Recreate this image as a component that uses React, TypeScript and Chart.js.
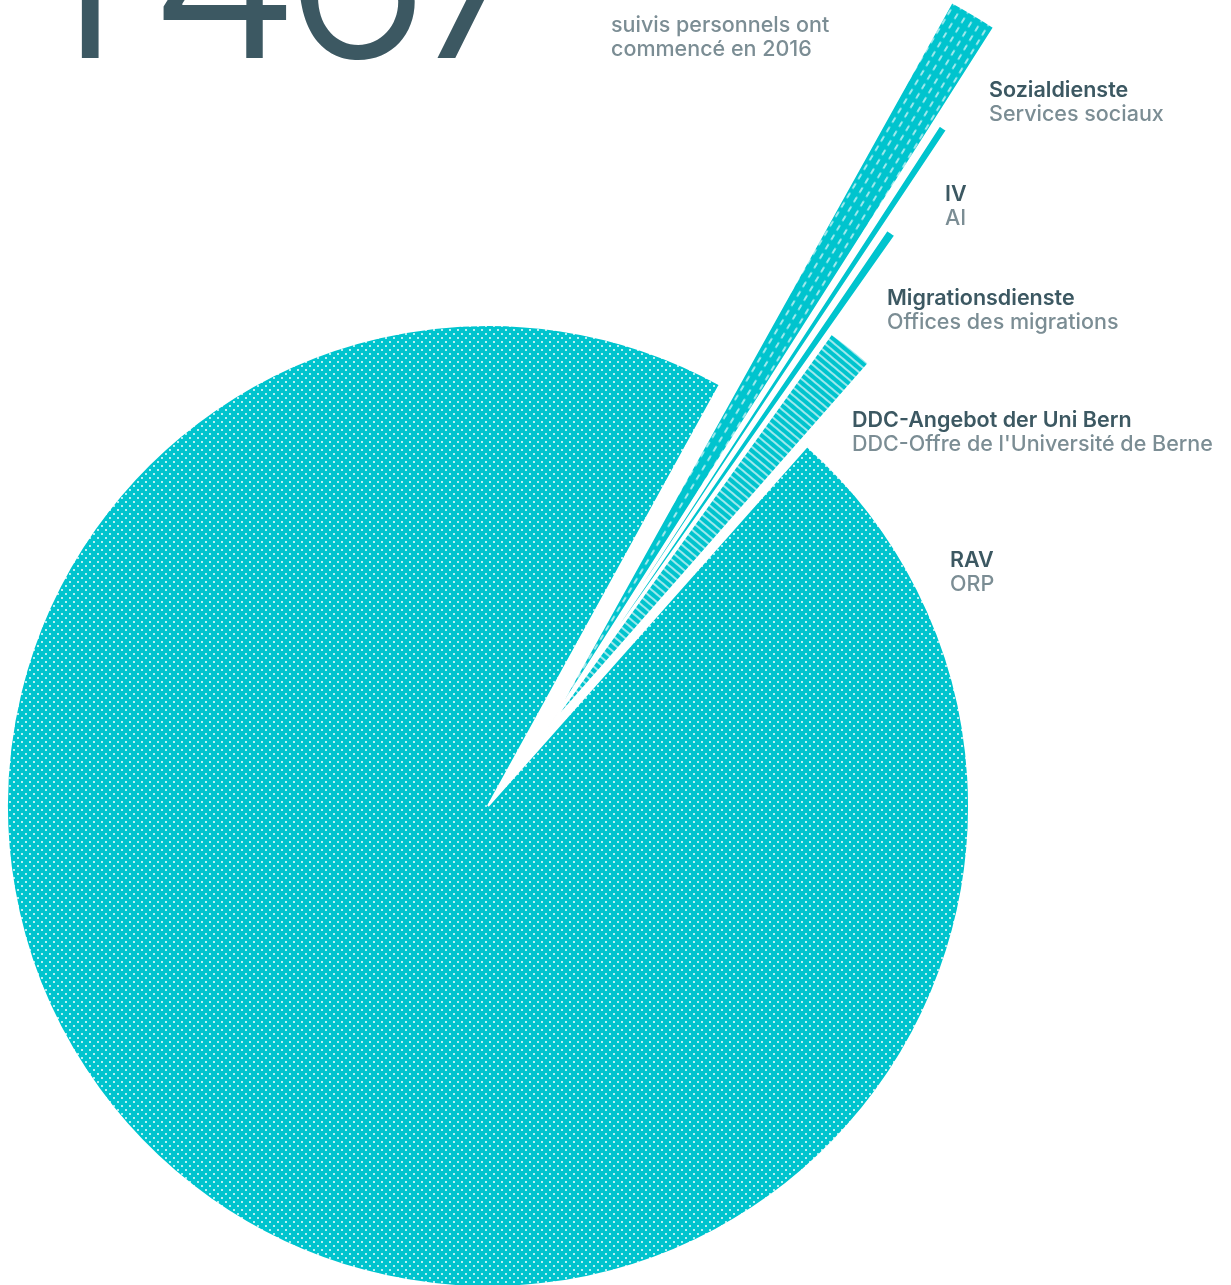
import React, { useEffect, useRef } from 'react';
import { Chart, registerables } from 'chart.js';

Chart.register(...registerables);

// ---------- data ----------
const TOTAL_LABEL = '1467';
const INTRO_FR = ['suivis personnels ont', 'commencé en 2016'];
const LABELS_DE = ['Sozialdienste', 'IV', 'Migrationsdienste', 'DDC-Angebot der Uni Bern', 'RAV'];
const LABELS_FR = ['Services sociaux', 'AI', 'Offices des migrations', "DDC-Offre de l'Université de Berne", 'ORP'];
const VALUES = [16, 5, 6, 25, 1415];

// ---------- styles / layout ----------
const W = 1231;
const H = 1285;
const CENTER_X = 488;
const CENTER_Y = 806;
const TEAL = '#00C4CE';
const DARK = '#3C5862';
const GREY = '#7B8D94';
const BASE_RADIUS = 481;
const RADIUS_FACTORS = [1.7277, 1.4948, 1.2536, 1.0104, 1];
const EXPLODED = [true, true, true, true, false];
const FILL_KIND = ['dash', 'solid', 'solid', 'stripe', 'dots'];
const EXPLODE_DIST = 98;
const EXPLODE_TURN_DEG = 2.4;
const PAD_DEG = 0.27; // white angular padding on each side of the pulled-out slices
const ROTATION = 28.82;
const BORDER = 2;
const LABEL_POS: [number, number][] = [
  [989, 97],
  [945, 201],
  [887, 305],
  [852, 427],
  [950, 567],
];
const INTRO_POS: [number, number] = [611, 32];
const FONT = 'Inter, "Noto Sans", sans-serif';
const LABEL_SIZE = 21.5;
const LABEL_LH = 24.5;
const NUM_SIZE = 244;

function makePattern(kind: string): CanvasPattern | string {
  if (kind === 'solid') return TEAL;
  const c = document.createElement('canvas');
  const ctx = c.getContext('2d')!;
  if (kind === 'dots') {
    c.width = 8;
    c.height = 8;
    ctx.fillStyle = TEAL;
    ctx.fillRect(0, 0, 8, 8);
    ctx.fillStyle = 'rgba(255,255,255,0.95)';
    for (const [x, y] of [[2, 2], [6, 6]]) {
      ctx.fillRect(x - 1, y - 0.5, 2, 1);
      ctx.fillRect(x - 0.5, y - 1, 1, 2);
    }
    return ctx.createPattern(c, 'repeat')!;
  }
  if (kind === 'dash') {
    c.width = 8;
    c.height = 11;
    ctx.fillStyle = TEAL;
    ctx.fillRect(0, 0, 8, 11);
    ctx.strokeStyle = 'rgba(255,255,255,0.95)';
    ctx.lineWidth = 1.3;
    ctx.beginPath();
    ctx.moveTo(4, 2.5);
    ctx.lineTo(4, 8.5);
    ctx.stroke();
    const p = ctx.createPattern(c, 'repeat')!;
    p.setTransform(new DOMMatrix().rotate(31));
    return p;
  }
  c.width = 6;
  c.height = 6;
  ctx.fillStyle = TEAL;
  ctx.fillRect(0, 0, 6, 6);
  ctx.strokeStyle = 'rgba(255,255,255,0.95)';
  ctx.lineWidth = 1.3;
  ctx.beginPath();
  ctx.moveTo(0, 3);
  ctx.lineTo(6, 3);
  ctx.stroke();
  const p = ctx.createPattern(c, 'repeat')!;
  p.setTransform(new DOMMatrix().rotate(40));
  return p;
}

// per-slice outer radius; the small slices are pulled out together as a group, with pad angles
const shapePlugin = {
  id: 'shapePlugin',
  afterDatasetsUpdate(chart: any) {
    const arcs = chart.getDatasetMeta(0).data as any[];
    arcs.forEach((arc) => {
      arc.$baseStart = arc.startAngle;
      arc.$baseEnd = arc.endAngle;
    });
  },
  beforeDatasetsDraw(chart: any) {
    const arcs = chart.getDatasetMeta(0).data as any[];
    const ca = chart.chartArea;
    const cx = (ca.left + ca.right) / 2;
    const cy = (ca.top + ca.bottom) / 2;
    const pad = (PAD_DEG * Math.PI) / 180;
    const group = arcs.filter((_, i) => EXPLODED[i]);
    const gStart = Math.min(...group.map((a) => a.$baseStart));
    const gEnd = Math.max(...group.map((a) => a.$baseEnd));
    const dir = (gStart + gEnd) / 2 + (EXPLODE_TURN_DEG * Math.PI) / 180;
    arcs.forEach((arc, i) => {
      arc.outerRadius = BASE_RADIUS * RADIUS_FACTORS[i];
      if (EXPLODED[i]) {
        arc.startAngle = arc.$baseStart + pad;
        arc.endAngle = arc.$baseEnd - pad;
        arc.circumference = arc.endAngle - arc.startAngle;
        arc.x = cx + Math.cos(dir) * EXPLODE_DIST;
        arc.y = cy + Math.sin(dir) * EXPLODE_DIST;
      } else {
        arc.x = cx;
        arc.y = cy;
      }
    });
  },
};

function TextBlock({ x, y, lines, colors, weights }: { x: number; y: number; lines: string[]; colors: string[]; weights: number[] }) {
  const firstBaseline = (LABEL_LH - 1.21 * LABEL_SIZE) / 2 + 0.96875 * LABEL_SIZE;
  return (
    <div
      style={{
        position: 'absolute',
        left: x,
        top: y - firstBaseline,
        fontFamily: FONT,
        fontSize: LABEL_SIZE,
        lineHeight: `${LABEL_LH}px`,
        whiteSpace: 'nowrap',
      }}
    >
      {lines.map((l, i) => (
        <div key={i} style={{ color: colors[i], fontWeight: weights[i] }}>
          {l}
        </div>
      ))}
    </div>
  );
}

export default function App() {
  const ref = useRef<HTMLCanvasElement>(null);

  useEffect(() => {
    if (!ref.current) return;
    const chart = new Chart(ref.current, {
      type: 'pie',
      data: {
        labels: LABELS_DE,
        datasets: [
          {
            data: VALUES,
            backgroundColor: FILL_KIND.map(makePattern) as any,
            borderColor: '#ffffff',
            borderWidth: BORDER,
            clip: false,
          } as any,
        ],
      },
      options: {
        responsive: false,
        animation: false,
        events: [],
        rotation: ROTATION,
        radius: BASE_RADIUS,
        layout: { padding: { left: 0, right: W - 2 * CENTER_X, top: 2 * CENTER_Y - H, bottom: 0 } },
        plugins: { legend: { display: false }, tooltip: { enabled: false } },
      } as any,
      plugins: [shapePlugin],
    });
    return () => chart.destroy();
  }, []);

  const numBaseline = (NUM_SIZE - 1.21 * NUM_SIZE) / 2 + 0.96875 * NUM_SIZE;

  return (
    <div style={{ position: 'absolute', left: 0, top: 0, width: W, height: H, overflow: 'hidden', background: '#fff' }}>
      <canvas ref={ref} width={W} height={H} style={{ position: 'absolute', left: 0, top: 0, width: W, height: H }} />
      <div
        style={{
          position: 'absolute',
          left: 26,
          top: 59 - numBaseline,
          fontFamily: FONT,
          fontSize: NUM_SIZE,
          lineHeight: `${NUM_SIZE}px`,
          fontWeight: 300,
          letterSpacing: -18,
          color: DARK,
          whiteSpace: 'nowrap',
        }}
      >
        <span style={{ letterSpacing: 26 }}>{TOTAL_LABEL.slice(0, 1)}</span>
        {TOTAL_LABEL.slice(1)}
      </div>
      <TextBlock x={INTRO_POS[0]} y={INTRO_POS[1]} lines={INTRO_FR} colors={[GREY, GREY]} weights={[500, 500]} />
      {LABELS_DE.map((de, i) => (
        <TextBlock
          key={de}
          x={LABEL_POS[i][0]}
          y={LABEL_POS[i][1]}
          lines={[de, LABELS_FR[i]]}
          colors={[DARK, GREY]}
          weights={[600, 500]}
        />
      ))}
    </div>
  );
}
